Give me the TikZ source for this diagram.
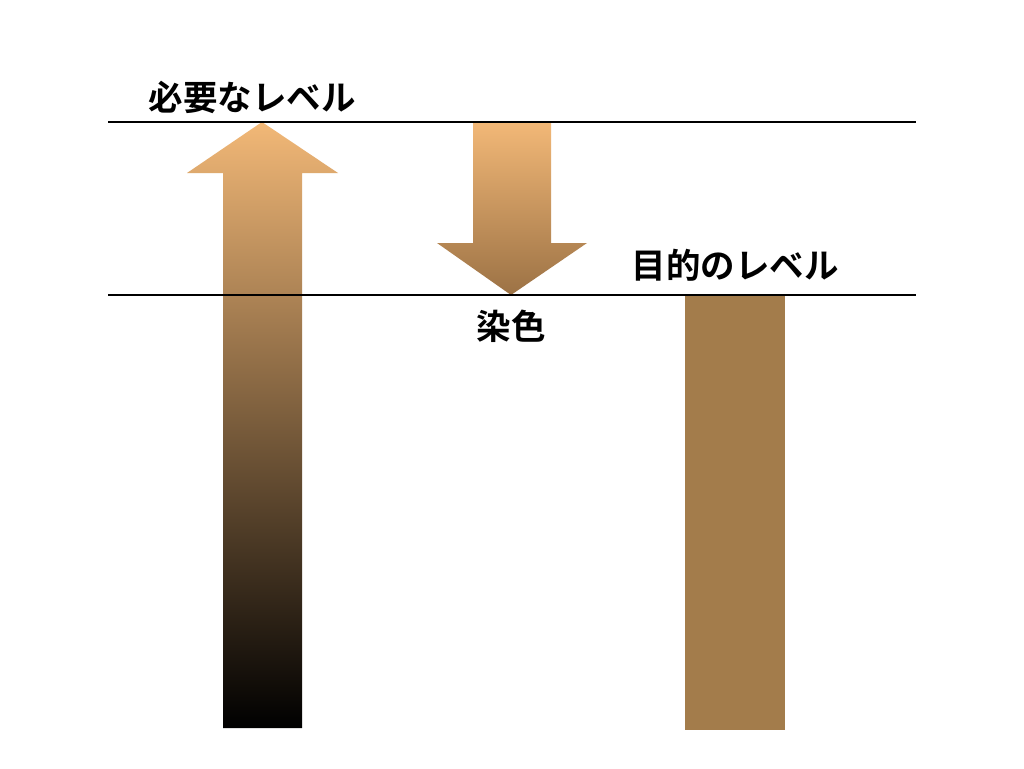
\documentclass[tikz,border=0pt]{standalone}
\usepackage{fontspec}
\newfontfamily\jpfont{Noto Sans CJK JP}[BoldFont={Noto Sans CJK JP Bold}]
\definecolor{tan}{HTML}{F2B877}
\definecolor{brownA}{HTML}{9C7245}
\definecolor{brownR}{HTML}{A37C4B}
\tikzset{
  level/.style={line width=1.6pt, draw=black},
  lbl/.style={font=\jpfont\bfseries\fontsize{34.5}{38}\selectfont, inner sep=0pt, anchor=center},
}
\begin{document}
\begin{tikzpicture}[x=1pt,y=-1pt]
\useasboundingbox (0,0) rectangle (1024,768);
\fill[white] (0,0) rectangle (1024,768);
% up arrow (needed level)
\shade[top color=tan, bottom color=black]
  (223,728) -- (223,173) -- (187,173) -- (262,122) -- (338,173) -- (302,173) -- (302,728) -- cycle;
% down arrow (dyeing)
\shade[top color=tan, bottom color=brownA]
  (473,122) -- (551,122) -- (551,243) -- (587,243) -- (511,295) -- (437,243) -- (473,243) -- cycle;
% target bar
\fill[brownR] (685,295) rectangle (785,730);
% level lines
\coordinate (l1a) at (108,122);
\coordinate (l1b) at (916,122);
\coordinate (l2a) at (108,295);
\coordinate (l2b) at (916,295);
\draw[level] (l1a) -- (l1b);
\draw[level] (l2a) -- (l2b);
% labels
\node[lbl] (need) at (252,97) {必要なレベル};
\node[lbl] (goal) at (735,265) {目的のレベル};
\node[lbl] (dye) at (511,326) {染色};
\end{tikzpicture}
\end{document}
